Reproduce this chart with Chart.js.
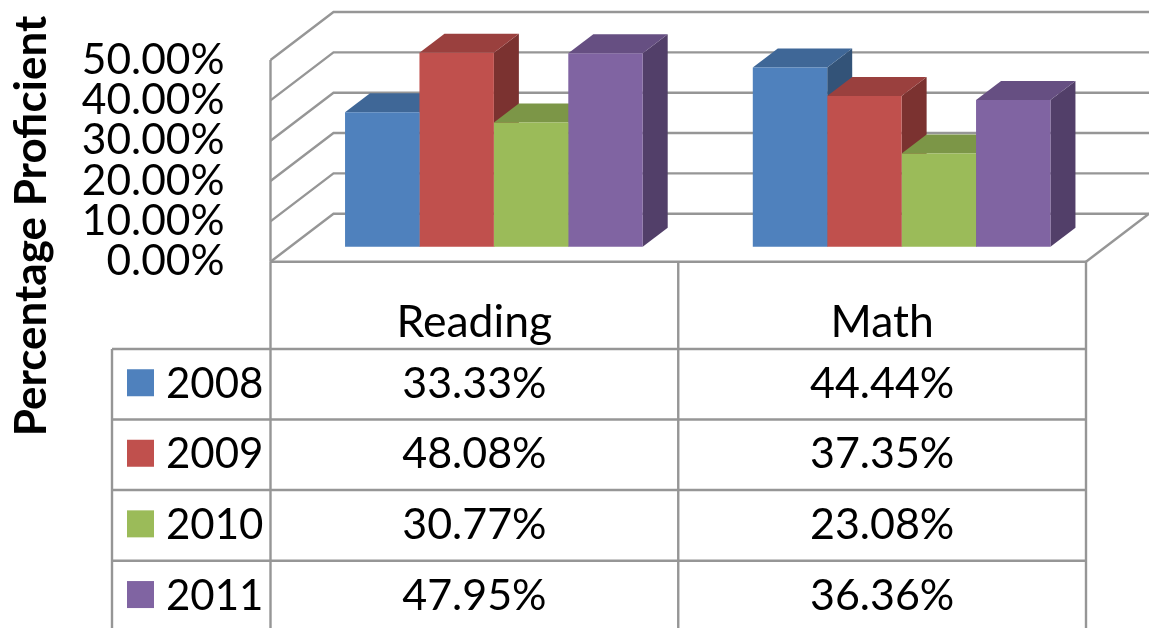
<!DOCTYPE html>
<html>
<head>
<meta charset="utf-8">
<title>Percentage Proficient</title>
<script src="https://cdn.jsdelivr.net/npm/chart.js@4/dist/chart.umd.min.js"></script>
<style>
  html, body { margin: 0; padding: 0; background: #fff; overflow: hidden; }
  canvas { display: block; }
</style>
</head>
<body>
<canvas id="chart" width="1149" height="628"></canvas>
<script>
// Data
const categories = ['Reading', 'Math'];
const years = ['2008', '2009', '2010', '2011'];
const values2008 = [33.33, 44.44];
const values2009 = [48.08, 37.35];
const values2010 = [30.77, 23.08];
const values2011 = [47.95, 36.36];
const yTicks = [0, 10, 20, 30, 40, 50];
const axisTitle = 'Percentage Proficient';

// Colours: front, top face, side face
const frontColors = ['#4F81BD', '#C0504D', '#9BBB59', '#8064A2'];
const topColors = ['#3F6797', '#9A403E', '#7C9647', '#664F82'];
const sideColors = ['#335378', '#7B3230', '#637738', '#523F69'];
const lineColor = '#969696';
const fontName = 'Lato, "Open Sans", sans-serif';

// Fake 3D box: wall depth and bar depth in pixels
const WALL_DX = 63, WALL_DY = 48;
const BAR_SHIFT_X = 19.5, BAR_SHIFT_Y = 15;
const BAR_DX = 25, BAR_DY = 19;

// Data table below the plot
const TABLE_LEFT = 112;
const ROW_LINES = [349, 419.5, 490, 560.7];
const PAGE_H = 628;
const LINE_W = 2.4;

function line(ctx, points, width) {
    ctx.beginPath();
    points.forEach((p, i) => i ? ctx.lineTo(p[0], p[1]) : ctx.moveTo(p[0], p[1]));
    ctx.lineWidth = width;
    ctx.strokeStyle = lineColor;
    ctx.stroke();
}

function face(ctx, points, color) {
    ctx.beginPath();
    points.forEach((p, i) => i ? ctx.lineTo(p[0], p[1]) : ctx.moveTo(p[0], p[1]));
    ctx.closePath();
    ctx.fillStyle = color;
    ctx.fill();
}

// Back wall, left wall and floor
const wallsPlugin = {
    id: 'walls',
    beforeDatasetsDraw(chart) {
        const { ctx, scales: { y }, chartArea: { left, right, bottom, top } } = chart;
        ctx.save();
        y.ticks.forEach(t => {
            const py = y.getPixelForValue(t.value);
            line(ctx, [[left, py], [left + WALL_DX, py - WALL_DY], [chart.width, py - WALL_DY]], LINE_W);
        });
        line(ctx, [[left, top], [left, bottom]], LINE_W);
        line(ctx, [[right, bottom], [right + WALL_DX, bottom - WALL_DY]], LINE_W);
        ctx.restore();
    }
};

// Bars sit inside the box: shift them back, paint top and side faces left to right,
// then the library paints the fronts over them
const boxPlugin = {
    id: 'box',
    beforeDatasetsDraw(chart) {
        const { ctx } = chart;
        ctx.save();
        ctx.translate(BAR_SHIFT_X, -BAR_SHIFT_Y);
        years.forEach((year, i) => {
            chart.getDatasetMeta(i).data.forEach(bar => {
                const x0 = bar.x - bar.width / 2, x1 = bar.x + bar.width / 2;
                face(ctx, [[x1, bar.y], [x1 + BAR_DX, bar.y - BAR_DY], [x1 + BAR_DX, bar.base - BAR_DY], [x1, bar.base]], sideColors[i]);
                face(ctx, [[x0, bar.y], [x0 + BAR_DX, bar.y - BAR_DY], [x1 + BAR_DX, bar.y - BAR_DY], [x1, bar.y]], topColors[i]);
            });
        });
    },
    afterDatasetsDraw(chart) {
        chart.ctx.restore();
    }
};

// Data table and rotated axis title
const tablePlugin = {
    id: 'dataTable',
    afterDraw(chart) {
        const { ctx, scales: { x }, chartArea: { left, right, bottom } } = chart;
        const mid = (left + right) / 2;
        ctx.save();
        line(ctx, [[left, bottom], [right, bottom]], LINE_W);
        [left, mid, right].forEach(px => line(ctx, [[px, bottom], [px, PAGE_H]], LINE_W));
        line(ctx, [[TABLE_LEFT, ROW_LINES[0]], [TABLE_LEFT, PAGE_H]], LINE_W);
        ROW_LINES.forEach(py => line(ctx, [[TABLE_LEFT, py], [right, py]], LINE_W));

        ctx.fillStyle = '#000';
        ctx.textBaseline = 'alphabetic';
        ctx.textAlign = 'center';
        ctx.font = '44.5px ' + fontName;
        categories.forEach((c, i) => ctx.fillText(c, x.getPixelForTick(i), 336.5));

        chart.data.datasets.forEach((ds, r) => {
            const baseline = (ROW_LINES[r] + (ROW_LINES[r + 1] || ROW_LINES[r] + 70.7)) / 2 + 13.5;
            ctx.fillStyle = frontColors[r];
            ctx.fillRect(127, baseline - 28.5, 27, 27);
            ctx.fillStyle = '#000';
            ctx.textAlign = 'left';
            ctx.font = '42px ' + fontName;
            ctx.fillText(ds.label, 166, baseline);
            ctx.textAlign = 'center';
            ctx.font = '43px ' + fontName;
            ds.data.forEach((v, i) => ctx.fillText(v.toFixed(2) + '%', x.getPixelForTick(i), baseline));
        });

        ctx.translate(46, 226);
        ctx.rotate(-Math.PI / 2);
        ctx.font = 'bold 44px ' + fontName;
        ctx.fillText(axisTitle, 0, 0);
        ctx.restore();
    }
};

const seriesValues = [values2008, values2009, values2010, values2011];

new Chart(document.getElementById('chart').getContext('2d'), {
    type: 'bar',
    data: {
        labels: categories,
        datasets: years.map((year, i) => ({
            label: year,
            data: seriesValues[i],
            backgroundColor: frontColors[i],
            borderWidth: 0,
            clip: false
        }))
    },
    options: {
        responsive: false,
        animation: false,
        categoryPercentage: 0.73,
        barPercentage: 1,
        layout: { padding: { top: 60, bottom: 366.3, right: 63, left: 0 } },
        plugins: {
            legend: { display: false },
            tooltip: { enabled: false }
        },
        scales: {
            x: { display: false },
            y: {
                min: yTicks[0],
                max: yTicks[yTicks.length - 1],
                afterBuildTicks: axis => { axis.ticks = yTicks.map(value => ({ value })); },
                afterFit: axis => {
                    axis.width = 270.5;
                    axis.paddingTop = 0; // tick labels may stick out of the plot box
                    axis.paddingBottom = 0;
                },
                grid: { display: false, drawTicks: false },
                border: { display: false },
                ticks: {
                    autoSkip: false,
                    padding: 46,
                    color: '#000',
                    font: { family: fontName, size: 42.5 },
                    callback: v => v.toFixed(2) + '%'
                }
            }
        }
    },
    plugins: [wallsPlugin, boxPlugin, tablePlugin]
});
</script>
</body>
</html>
